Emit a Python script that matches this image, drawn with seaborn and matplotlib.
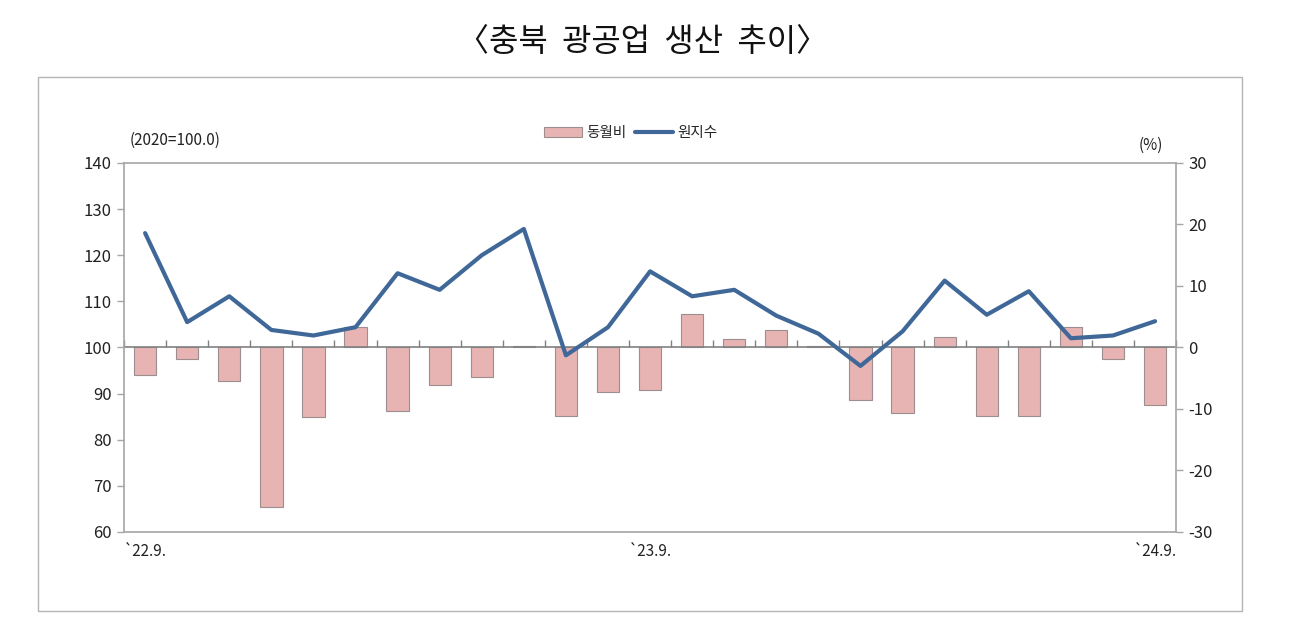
import numpy as np
import pandas as pd
import matplotlib
matplotlib.use("Agg")
import matplotlib.pyplot as plt
import seaborn as sns
from matplotlib.patches import Rectangle, Patch
from matplotlib.lines import Line2D

# ---------------- data ----------------
months = ["22.9", "22.10", "22.11", "22.12", "23.1", "23.2", "23.3", "23.4", "23.5",
          "23.6", "23.7", "23.8", "23.9", "23.10", "23.11", "23.12", "24.1", "24.2",
          "24.3", "24.4", "24.5", "24.6", "24.7", "24.8", "24.9"]
index_vals = [124.8, 105.5, 111.1, 103.8, 102.6, 104.4, 116.1, 112.5, 120.0,
              125.7, 98.3, 104.4, 116.5, 111.1, 112.5, 106.9, 103.0, 96.0,
              103.5, 114.5, 107.1, 112.2, 102.0, 102.6, 105.7]
yoy_vals = [-4.5, -1.9, -5.4, -26.0, -11.3, 3.4, -10.4, -6.1, -4.8,
            0.3, -11.1, -7.2, -6.9, 5.4, 1.4, 2.9, 0.2, -8.6,
            -10.6, 1.7, -11.1, -11.1, 3.4, -1.9, -9.4]
left_ticks = [60, 70, 80, 90, 100, 110, 120, 130, 140]
right_ticks = [-30, -20, -10, 0, 10, 20, 30]
xtick_months = ["22.9", "23.9", "24.9"]
xtick_labels = ["`22.9.", "`23.9.", "`24.9."]
title_text = "〈충북  광공업  생산  추이〉"
legend_labels = ["동월비", "원지수"]
left_unit = "(2020=100.0)"
right_unit = "(%)"

bar_color = "#E8B4B3"
bar_edge = "#9C8E8E"
line_color = "#3F6899"
axis_gray = "#A6A6A6"

# ---------------- style ----------------
sns.set_theme(style="white")
plt.rcParams["font.family"] = ["Noto Sans CJK KR", "DejaVu Sans"]
plt.rcParams["axes.unicode_minus"] = False

df = pd.DataFrame({"month": months, "pos": np.arange(len(months)),
                   "idx": index_vals, "yoy": yoy_vals})

fig = plt.figure(figsize=(12.95, 6.33), dpi=100)
ax = fig.add_axes([0.0958, 0.1596, 0.8124, 0.5829])
ax2 = ax.twinx()

sns.barplot(data=df, x="pos", y="yoy", ax=ax2, native_scale=True, color=bar_color,
            width=0.53, edgecolor=bar_edge, linewidth=0.8, saturation=1)
sns.lineplot(data=df, x="pos", y="idx", ax=ax, color=line_color, linewidth=3)

ax.set_zorder(ax2.get_zorder() + 1)
ax.patch.set_visible(False)

ax.set_xlim(-0.5, len(months) - 0.5)
ax.set_ylim(60, 140)
ax2.set_ylim(-30, 30)
ax.set_yticks(left_ticks)
ax2.set_yticks(right_ticks)
ax.set_xticks([months.index(m) for m in xtick_months], xtick_labels)
for a in (ax, ax2):
    a.set_xlabel("")
    a.set_ylabel("")

ax.tick_params(axis="x", length=0, pad=8, labelsize=11, colors="#222222")
ax.tick_params(axis="y", direction="out", length=5, width=1, color=axis_gray,
               labelsize=12, pad=4, left=True, labelcolor="#222222")
ax2.tick_params(axis="y", direction="out", length=5, width=1, color=axis_gray,
                labelsize=12, pad=4, right=True, labelcolor="#222222")
for s in ax.spines.values():
    s.set_visible(True)
    s.set_color(axis_gray)
    s.set_linewidth(1.2)
for s in ax2.spines.values():
    s.set_visible(False)

# zero line (100 / 0%) with category boundary ticks
sec = ax.secondary_xaxis(0.5)
sec.set_xticks(np.arange(len(months) + 1) - 0.5)
sec.tick_params(axis="x", direction="out", length=5, width=1, color="#808080",
                labeltop=False, labelbottom=False)
for s in sec.spines.values():
    s.set_color("#808080")
    s.set_linewidth(1.2)

# legend and units
handles = [Patch(facecolor=bar_color, edgecolor=bar_edge, linewidth=0.8),
           Line2D([], [], color=line_color, linewidth=3)]
fig.legend(handles, legend_labels, loc="center", bbox_to_anchor=(0.487, 0.79),
           ncol=2, frameon=False, fontsize=10.5, handlelength=2.6,
           handletextpad=0.3, columnspacing=0.6)
fig.text(0.1004, 0.779, left_unit, ha="left", va="center", fontsize=11, color="#222222")
fig.text(0.889, 0.770, right_unit, ha="center", va="center", fontsize=11, color="#222222")

# title and outer frame
fig.text(0.496, 0.934, title_text, ha="center", va="center", fontsize=23,
         color="#111111")
fig.patches.append(Rectangle((0.0293, 0.0348), 0.9297, 0.8436, transform=fig.transFigure,
                             fill=False, edgecolor="#B4B4B4", linewidth=1))

fig.savefig("out.png", dpi=100)
